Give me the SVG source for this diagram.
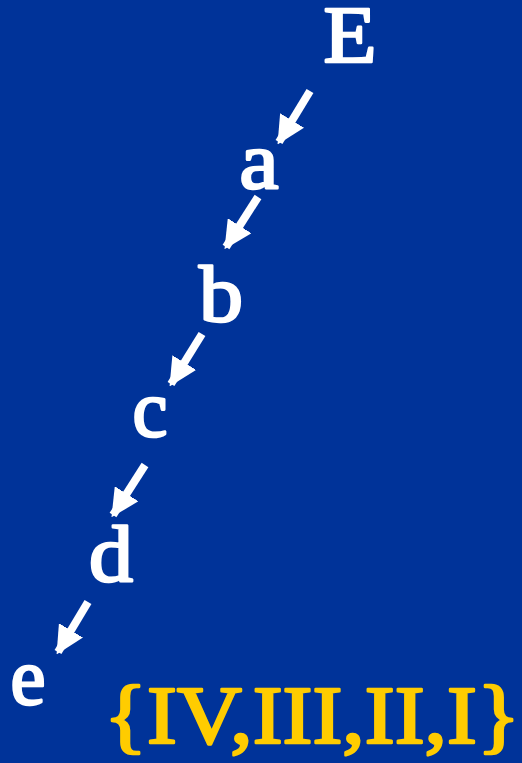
<svg xmlns="http://www.w3.org/2000/svg" width="522" height="763" viewBox="0 0 522 763">
<defs>
<style>
text{font-family:'Liberation Serif','Times New Roman',serif;font-weight:normal;stroke-linejoin:round}
.lbl{font-size:80px;fill:#ffffff;stroke:#ffffff;stroke-width:2.6px;text-anchor:middle}
.set{font-size:82px;fill:#ffcc00;stroke:#ffcc00;stroke-width:2.6px}
.arr{stroke:#ffffff;stroke-width:8;fill:none;marker-end:url(#ah)}
</style>
<marker id="ah" viewBox="0 0 10 10" refX="9" refY="5" markerUnits="userSpaceOnUse" markerWidth="28" markerHeight="28" orient="auto">
<path d="M0,0 L10,5 L0,10 Z" fill="#ffffff"/>
</marker>
</defs>
<rect width="522" height="763" fill="#003399"/>
<g id="connectors">
<line class="arr" x1="310" y1="91" x2="279" y2="142"/>
<line class="arr" x1="258" y1="197" x2="226" y2="247"/>
<line class="arr" x1="202" y1="334" x2="171" y2="384"/>
<line class="arr" x1="145" y1="465" x2="113" y2="515"/>
<line class="arr" x1="88" y1="602" x2="58" y2="652"/>
</g>
<g id="node-E"><text class="lbl" x="350" y="62" textLength="53" lengthAdjust="spacingAndGlyphs">E</text></g>
<g id="node-a"><text class="lbl" x="259" y="188" textLength="39" lengthAdjust="spacingAndGlyphs">a</text></g>
<g id="node-b"><text class="lbl" x="221" y="321" textLength="44" lengthAdjust="spacingAndGlyphs">b</text></g>
<g id="node-c"><text class="lbl" x="150" y="436" textLength="35" lengthAdjust="spacingAndGlyphs">c</text></g>
<g id="node-d"><text class="lbl" x="111" y="581" textLength="44" lengthAdjust="spacingAndGlyphs">d</text></g>
<g id="node-e"><text class="lbl" x="28" y="704" textLength="35" lengthAdjust="spacingAndGlyphs">e</text></g>
<g id="set"><text class="set" x="104" y="743" textLength="416" lengthAdjust="spacingAndGlyphs">{IV,III,II,I}</text></g>
</svg>
